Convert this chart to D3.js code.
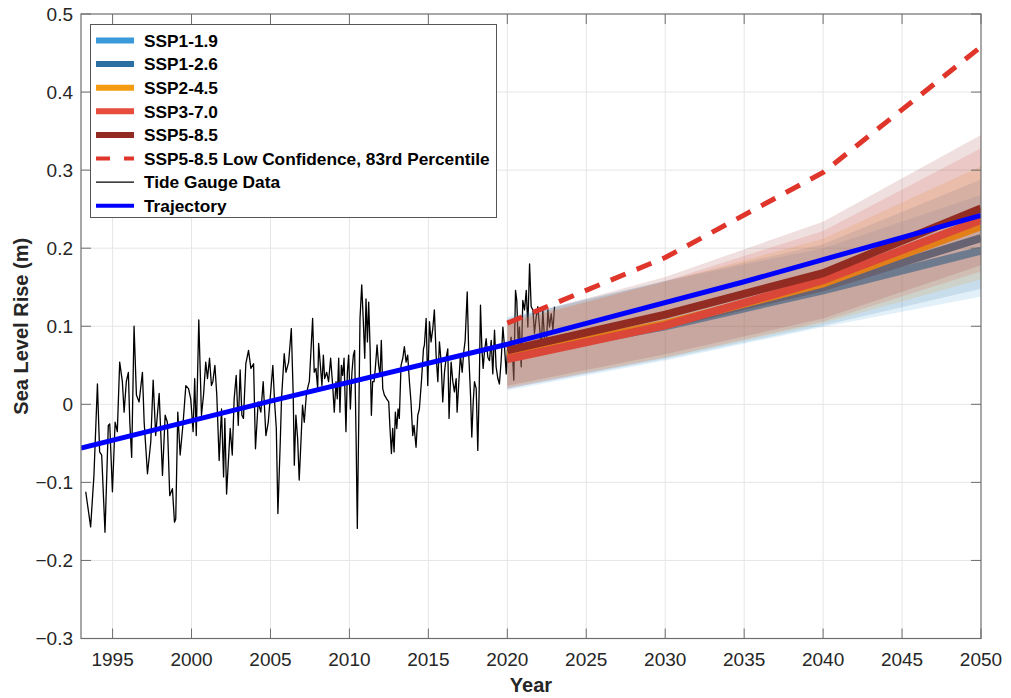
<!DOCTYPE html>
<html>
<head>
<meta charset="utf-8">
<script src="https://cdn.jsdelivr.net/npm/d3@7/dist/d3.min.js"></script>
<style>
  body { margin: 0; background: #fff; }
  svg text { font-family: "Liberation Sans", Arial, sans-serif; fill: #262626; }
</style>
</head>
<body>
<div id="chart"></div>
<script>
// tide gauge record (year, sea level rise in m)
var tideYears = [1993.30,1993.61,1993.82,1994.04,1994.18,1994.31,1994.52,1994.73,1994.82,1994.99,
  1995.16,1995.30,1995.45,1995.62,1995.73,1995.87,1996.00,1996.09,1996.21,1996.36,1996.51,1996.68,1996.89,
  1997.00,1997.21,1997.42,1997.57,1997.73,1997.95,1998.16,1998.33,1998.47,1998.62,1998.79,1998.92,
  1999.00,1999.13,1999.28,1999.47,1999.64,1999.81,1999.95,2000.10,2000.20,2000.30,2000.46,2000.63,2000.76,2000.90,
  2001.01,2001.14,2001.26,2001.35,2001.48,2001.60,2001.75,2001.90,2002.03,2002.11,2002.22,2002.32,2002.45,2002.58,
  2002.70,2002.83,2002.96,2003.08,2003.19,2003.29,2003.44,2003.61,2003.76,2003.93,2004.05,2004.22,2004.39,2004.54,
  2004.71,2004.86,2005.03,2005.15,2005.26,2005.37,2005.47,2005.62,2005.70,2005.87,2005.98,2006.15,2006.32,2006.44,
  2006.51,2006.61,2006.72,2006.82,2006.93,2007.03,2007.14,2007.27,2007.39,2007.46,2007.56,2007.67,2007.77,2007.88,
  2007.99,2008.05,2008.16,2008.26,2008.35,2008.43,2008.56,2008.68,2008.81,2008.94,2009.04,2009.15,2009.23,2009.32,
  2009.40,2009.49,2009.57,2009.66,2009.78,2009.87,2009.95,2010.06,2010.16,2010.25,2010.33,2010.42,2010.50,2010.59,
  2010.67,2010.78,2010.88,2010.97,2011.05,2011.14,2011.22,2011.31,2011.39,2011.47,2011.56,2011.64,2011.75,2011.85,
  2011.94,2012.02,2012.11,2012.21,2012.36,2012.49,2012.57,2012.66,2012.74,2012.83,2012.91,2013.00,2013.08,2013.16,
  2013.27,2013.38,2013.48,2013.59,2013.69,2013.80,2013.90,2014.01,2014.09,2014.22,2014.33,2014.43,2014.56,2014.69,
  2014.75,2014.86,2014.96,2015.07,2015.17,2015.28,2015.38,2015.49,2015.60,2015.70,2015.81,2015.91,2016.02,2016.12,
  2016.23,2016.31,2016.44,2016.55,2016.65,2016.76,2016.82,2016.93,2017.03,2017.14,2017.24,2017.33,2017.46,2017.56,
  2017.67,2017.75,2017.84,2017.92,2018.03,2018.13,2018.22,2018.30,2018.39,2018.47,2018.55,2018.66,2018.77,2018.87,
  2018.98,2019.08,2019.19,2019.29,2019.40,2019.50,2019.61,2019.72,2019.82,2019.93,2020.03,2020.14,2020.24,2020.35,
  2020.41,2020.52,2020.60,2020.69,2020.77,2020.88,2020.98,2021.09,2021.20,2021.30,2021.41,2021.51,2021.62,2021.72,
  2021.83,2021.93,2022.04,2022.15,2022.25,2022.36,2022.46,2022.57,2022.67,2022.78,2022.89,2022.99];
var tideSLR = [-0.112,-0.157,-0.091,0.026,-0.061,-0.065,-0.164,-0.027,-0.025,-0.112,
  -0.023,-0.035,0.054,0.029,-0.010,0.029,0.041,-0.023,-0.068,0.100,0.012,0.003,0.041,
  -0.023,-0.089,-0.048,0.031,-0.040,0.014,-0.091,-0.014,-0.023,-0.117,-0.108,-0.151,
  -0.147,-0.010,-0.065,-0.023,0.024,0.020,0.007,-0.035,0.033,-0.040,0.108,-0.014,0.012,0.054,
  0.033,0.059,0.024,0.029,0.050,0.012,-0.072,-0.006,-0.093,-0.018,-0.115,-0.078,-0.031,-0.065,
  0.007,0.037,-0.027,0.044,-0.014,-0.018,0.052,0.069,0.046,0.052,-0.057,0.003,-0.010,0.029,
  -0.040,-0.023,0.020,0.050,0.003,-0.031,-0.140,-0.048,0.007,0.065,0.041,0.054,0.097,0.012,
  -0.078,-0.014,-0.044,-0.097,-0.048,-0.001,-0.023,0.012,0.024,0.029,0.067,0.110,0.041,0.046,
  0.020,0.078,0.050,0.024,0.063,0.033,0.041,0.029,0.059,0.024,-0.010,0.029,0.007,0.059,
  -0.010,0.050,0.037,0.059,-0.035,0.041,0.063,-0.006,0.041,0.063,0.069,-0.040,-0.159,-0.023,
  0.110,0.153,0.106,0.059,0.135,0.080,0.131,0.071,-0.014,0.029,0.029,0.046,0.076,0.050,
  0.037,0.082,0.020,0.012,0.007,0.003,-0.031,-0.063,-0.031,-0.061,-0.010,-0.031,-0.006,-0.018,
  0.050,0.059,0.074,0.054,0.063,0.029,0.003,-0.040,-0.027,-0.055,-0.014,-0.006,0.029,0.071,
  0.076,0.110,0.024,0.106,0.080,0.097,0.121,0.063,0.029,0.080,0.054,0.003,0.041,0.059,
  0.071,-0.018,0.054,0.029,0.016,0.033,-0.010,0.029,0.063,0.041,0.067,0.082,0.144,0.063,
  0.012,-0.042,0.003,0.029,0.020,-0.059,0.020,0.127,0.071,0.046,0.067,0.084,0.060,0.056,
  0.082,0.039,0.095,0.048,0.033,0.026,0.056,0.099,0.074,0.039,0.078,0.065,0.086,0.056,
  0.031,0.146,0.133,0.078,0.099,0.048,0.133,0.121,0.146,0.099,0.180,0.125,0.121,0.091,
  0.112,0.125,0.099,0.074,0.121,0.082,0.067,0.121,0.099,0.116,0.095,0.125];

// projections
var projYears = [2020, 2030, 2040, 2050];
var scenarios = ["SSP1-1.9", "SSP1-2.6", "SSP2-4.5", "SSP3-7.0", "SSP5-8.5"];
var scenarioColors = ["#3a9ad9", "#2c6fa3", "#f39c12", "#e74c3c", "#922b21"];
var ssp119Med = [0.062, 0.100, 0.146, 0.197];
var ssp126Med = [0.064, 0.102, 0.150, 0.213];
var ssp245Med = [0.063, 0.103, 0.155, 0.228];
var ssp370Med = [0.058, 0.101, 0.159, 0.236];
var ssp585Med = [0.069, 0.115, 0.168, 0.251];
var ssp119Lo = [0.018, 0.056, 0.099, 0.138];
var ssp126Lo = [0.020, 0.058, 0.101, 0.148];
var ssp245Lo = [0.022, 0.060, 0.104, 0.160];
var ssp370Lo = [0.020, 0.060, 0.106, 0.170];
var ssp585Lo = [0.024, 0.064, 0.110, 0.178];
var ssp119Hi = [0.112, 0.158, 0.200, 0.268];
var ssp126Hi = [0.110, 0.158, 0.205, 0.288];
var ssp245Hi = [0.106, 0.157, 0.212, 0.305];
var ssp370Hi = [0.104, 0.158, 0.222, 0.328];
var ssp585Hi = [0.108, 0.163, 0.234, 0.345];
var ssp585LowConf83 = [0.104, 0.188, 0.297, 0.458];

// trajectory
var trajYears = [1993, 2005, 2020, 2035, 2050];
var trajSLR = [-0.056, 0.004, 0.077, 0.157, 0.242];

var xTicks = [1995, 2000, 2005, 2010, 2015, 2020, 2025, 2030, 2035, 2040, 2045, 2050];
var yTicks = [-0.3, -0.2, -0.1, 0, 0.1, 0.2, 0.3, 0.4, 0.5];

var medians = [ssp119Med, ssp126Med, ssp245Med, ssp370Med, ssp585Med];
var lows = [ssp119Lo, ssp126Lo, ssp245Lo, ssp370Lo, ssp585Lo];
var highs = [ssp119Hi, ssp126Hi, ssp245Hi, ssp370Hi, ssp585Hi];

var width = 1011, height = 698;
var margin = {top: 14, right: 30, bottom: 59.5, left: 81};
var plotW = width - margin.left - margin.right;
var plotH = height - margin.top - margin.bottom;

var svg = d3.select("#chart").append("svg")
  .attr("width", width)
  .attr("height", height);

var x = d3.scaleLinear().domain([1993, 2050]).range([0, plotW]);
var y = d3.scaleLinear().domain([-0.3, 0.5]).range([plotH, 0]);

var g = svg.append("g")
  .attr("transform", "translate(" + margin.left + "," + margin.top + ")");

g.append("clipPath").attr("id", "clip")
  .append("rect").attr("width", plotW).attr("height", plotH);

// grid
g.append("g").selectAll("line")
  .data(xTicks.filter(function(d) { return d < 2050; }))
  .enter().append("line")
  .attr("x1", function(d) { return x(d); })
  .attr("x2", function(d) { return x(d); })
  .attr("y1", 0).attr("y2", plotH)
  .attr("stroke", "#e6e6e6").attr("stroke-width", 1);
g.append("g").selectAll("line")
  .data(yTicks.slice(1, -1))
  .enter().append("line")
  .attr("y1", function(d) { return y(d); })
  .attr("y2", function(d) { return y(d); })
  .attr("x1", 0).attr("x2", plotW)
  .attr("stroke", "#e6e6e6").attr("stroke-width", 1);

var plot = g.append("g").attr("clip-path", "url(#clip)");

// tide gauge
var tideData = tideYears.map(function(d, i) { return [d, tideSLR[i]]; });
var line = d3.line()
  .x(function(d) { return x(d[0]); })
  .y(function(d) { return y(d[1]); });

plot.append("path")
  .datum(tideData)
  .attr("d", line)
  .attr("fill", "none")
  .attr("stroke", "#000")
  .attr("stroke-width", 1.3)
  .attr("stroke-linejoin", "round");

// scenario bands and medians, drawn in order so later bands veil earlier lines
var band = d3.area()
  .x(function(d) { return x(d[0]); })
  .y0(function(d) { return y(d[1]); })
  .y1(function(d) { return y(d[2]); });

scenarios.forEach(function(s, i) {
  var bd = projYears.map(function(yr, j) { return [yr, lows[i][j], highs[i][j]]; });
  plot.append("path")
    .datum(bd)
    .attr("d", band)
    .attr("fill", scenarioColors[i])
    .attr("fill-opacity", 0.15);
  plot.append("path")
    .datum(projYears.map(function(yr, j) { return [yr, medians[i][j]]; }))
    .attr("d", line)
    .attr("fill", "none")
    .attr("stroke", scenarioColors[i])
    .attr("stroke-width", 8);
});

// low confidence dashed
plot.append("path")
  .datum(projYears.map(function(yr, j) { return [yr, ssp585LowConf83[j]]; }))
  .attr("d", line)
  .attr("fill", "none")
  .attr("stroke", "#e0352b")
  .attr("stroke-width", 5)
  .attr("stroke-dasharray", "16,12");

// trajectory
plot.append("path")
  .datum(trajYears.map(function(yr, j) { return [yr, trajSLR[j]]; }))
  .attr("d", line)
  .attr("fill", "none")
  .attr("stroke", "#0000ff")
  .attr("stroke-width", 5);

// axes box + ticks (inside, mirrored)
var axisColor = "#6e6e6e";
var tickLen = 10;
var ax = g.append("g");
ax.append("rect")
  .attr("width", plotW).attr("height", plotH)
  .attr("fill", "none").attr("stroke", axisColor).attr("stroke-width", 1.2);

xTicks.forEach(function(t) {
  ax.append("line").attr("x1", x(t)).attr("x2", x(t)).attr("y1", plotH).attr("y2", plotH - tickLen)
    .attr("stroke", axisColor);
  ax.append("line").attr("x1", x(t)).attr("x2", x(t)).attr("y1", 0).attr("y2", tickLen)
    .attr("stroke", axisColor);
  ax.append("text")
    .attr("x", x(t)).attr("y", plotH + 27)
    .attr("text-anchor", "middle")
    .style("font-size", "19px")
    .text(t);
});
yTicks.forEach(function(t) {
  ax.append("line").attr("x1", 0).attr("x2", tickLen).attr("y1", y(t)).attr("y2", y(t))
    .attr("stroke", axisColor);
  ax.append("line").attr("x1", plotW).attr("x2", plotW - tickLen).attr("y1", y(t)).attr("y2", y(t))
    .attr("stroke", axisColor);
  ax.append("text")
    .attr("x", -8).attr("y", y(t)).attr("dy", "0.36em")
    .attr("text-anchor", "end")
    .style("font-size", "19px")
    .text(t === 0 ? "0" : d3.format(".1f")(t).replace("-", "\u2212"));
});

// axis labels
svg.append("text")
  .attr("x", margin.left + plotW / 2).attr("y", 692)
  .attr("text-anchor", "middle")
  .style("font-size", "20px").style("font-weight", "bold")
  .text("Year");
svg.append("text")
  .attr("transform", "translate(28," + (margin.top + plotH / 2) + ") rotate(-90)")
  .attr("text-anchor", "middle")
  .style("font-size", "20px").style("font-weight", "bold")
  .text("Sea Level Rise (m)");

// legend
var legendItems = scenarios.map(function(s, i) {
  return {label: s, color: scenarioColors[i], w: 6, dash: null};
}).concat([
  {label: "SSP5-8.5 Low Confidence, 83rd Percentile", color: "#e0352b", w: 4, dash: "14,14"},
  {label: "Tide Gauge Data", color: "#000", w: 1.2, dash: null},
  {label: "Trajectory", color: "#0000ff", w: 4, dash: null}
]);

var legend = svg.append("g").attr("transform", "translate(90.5,24.5)");
legend.append("rect")
  .attr("width", 406).attr("height", 193)
  .attr("fill", "#fff").attr("stroke", "#555").attr("stroke-width", 1);

legendItems.forEach(function(d, i) {
  var yy = 16 + i * 23.6;
  legend.append("line")
    .attr("x1", 5.5).attr("x2", 43.5)
    .attr("y1", yy).attr("y2", yy)
    .attr("stroke", d.color).attr("stroke-width", d.w)
    .attr("stroke-dasharray", d.dash);
  legend.append("text")
    .attr("x", 53.5).attr("y", yy).attr("dy", "0.36em")
    .style("font-size", "17.3px").style("font-weight", "bold")
    .style("fill", "#000")
    .text(d.label);
});
</script>
</body>
</html>
